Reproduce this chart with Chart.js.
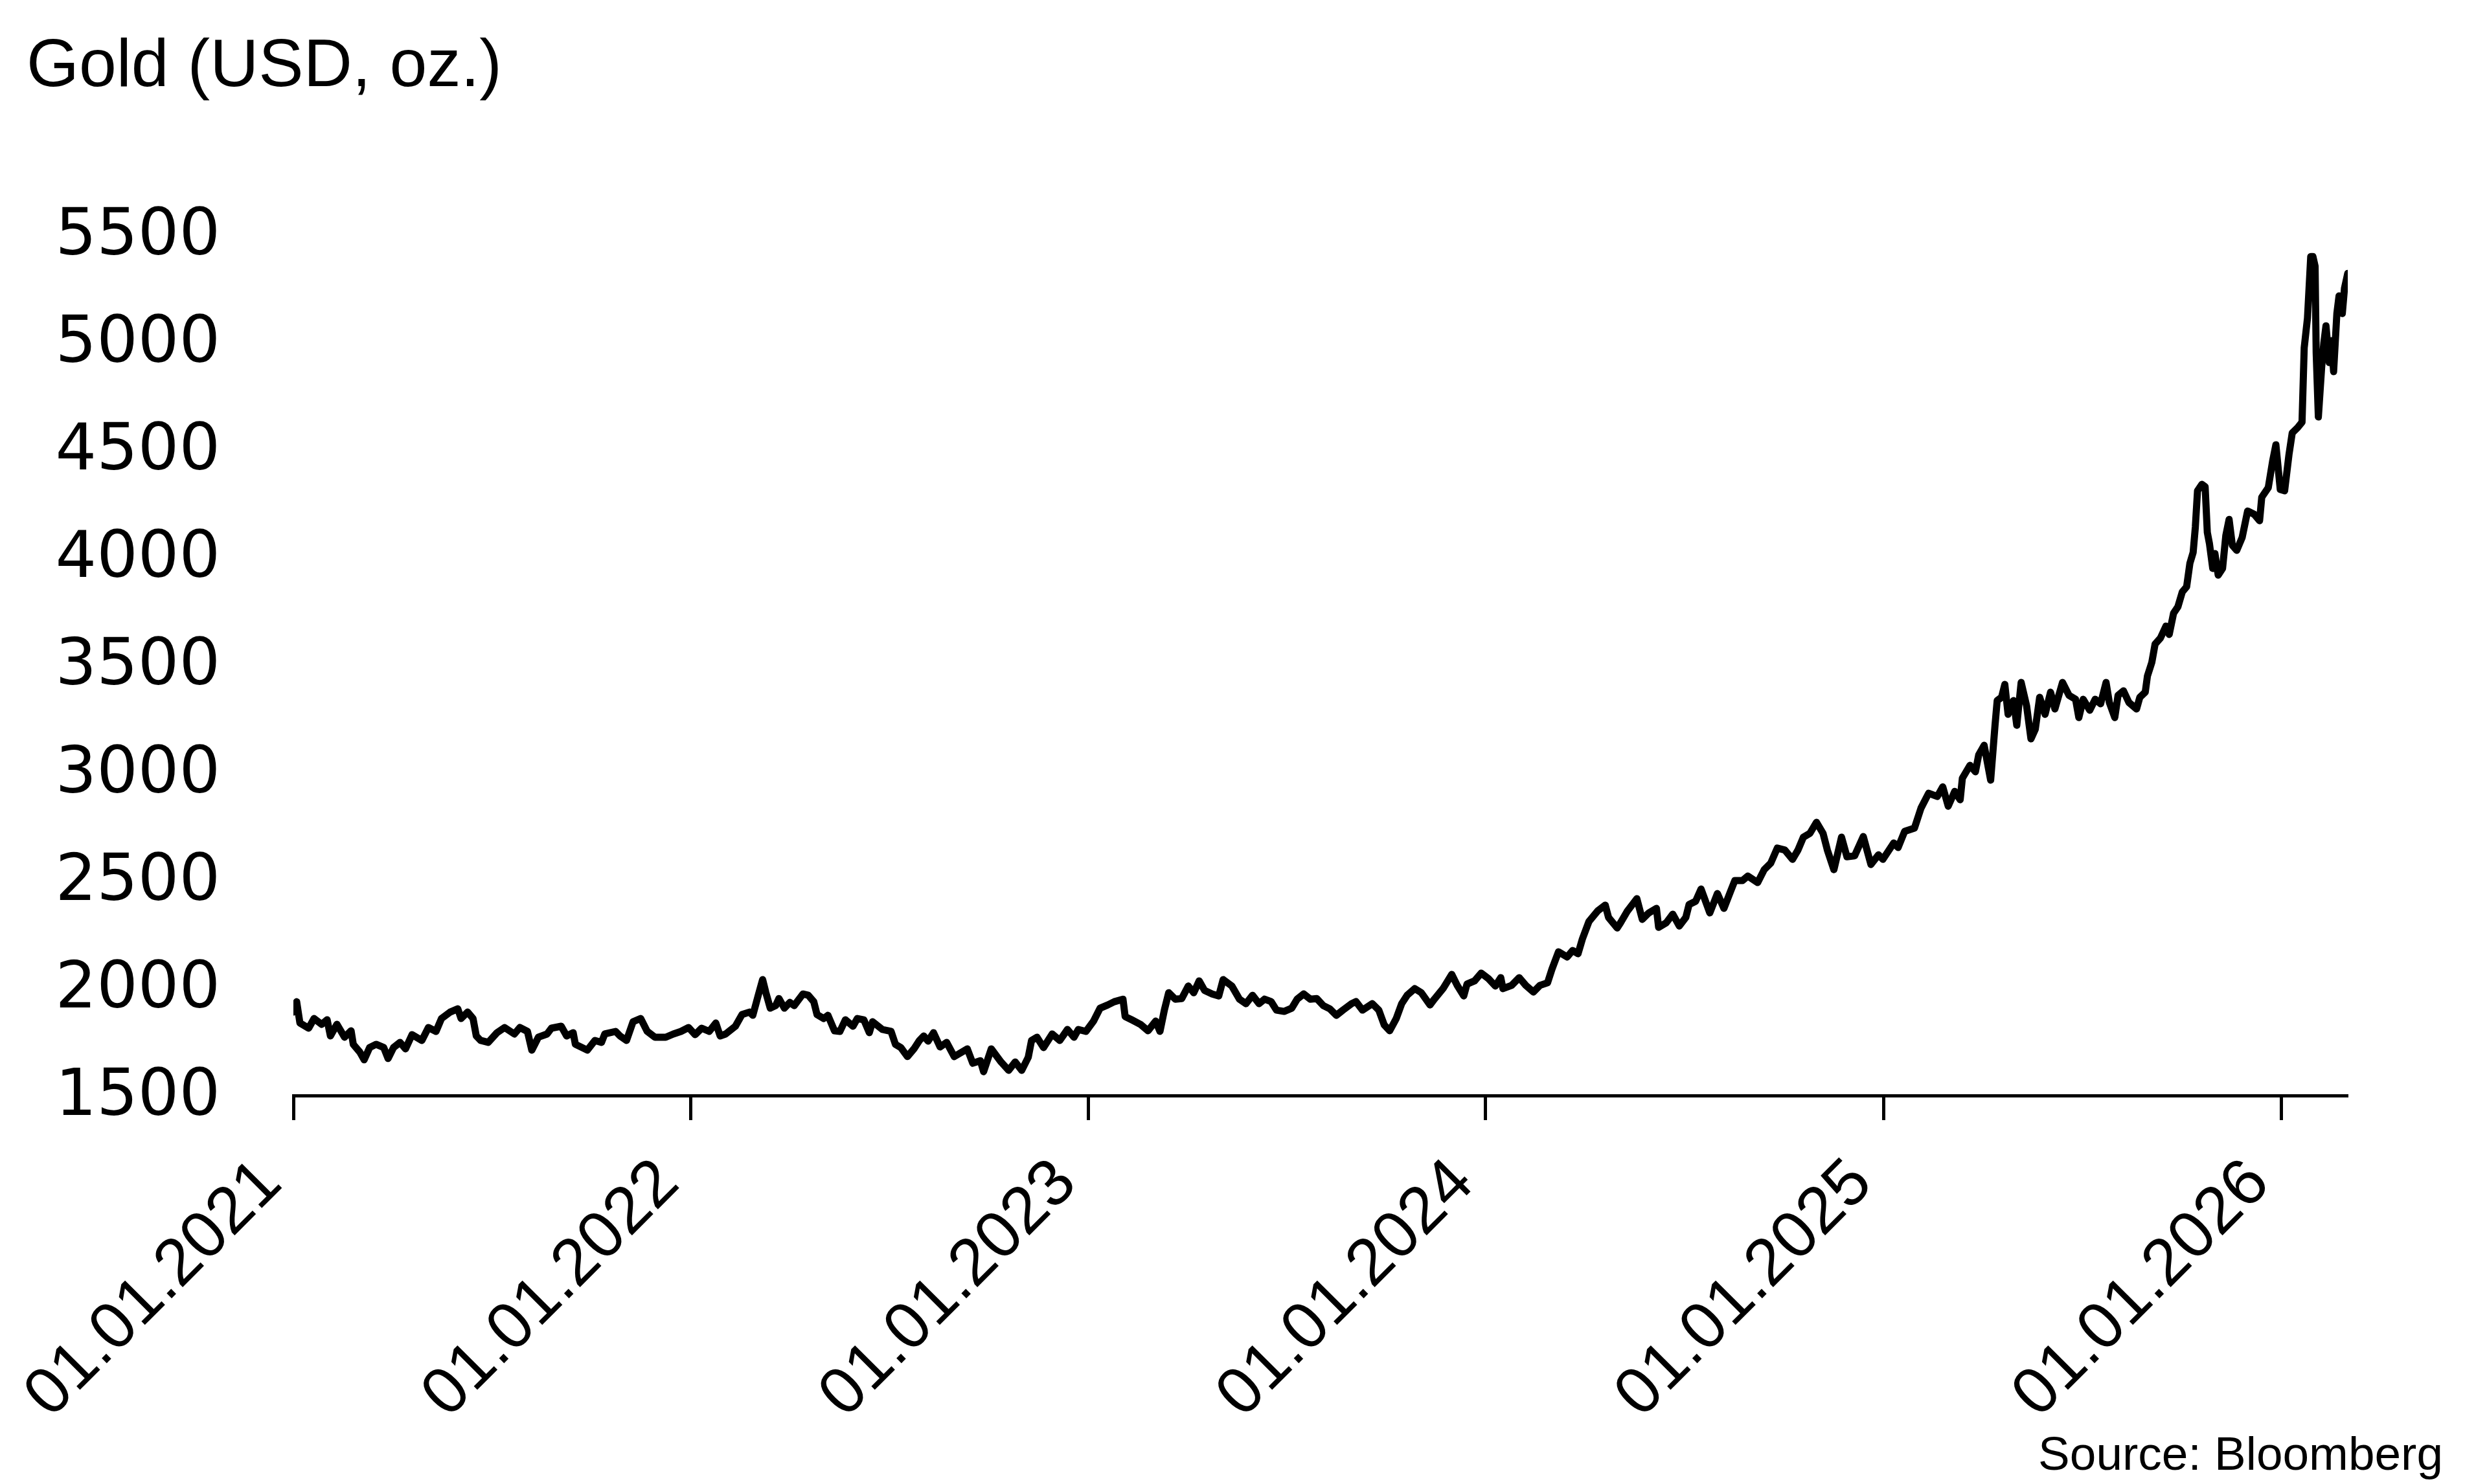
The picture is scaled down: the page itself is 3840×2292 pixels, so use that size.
<!DOCTYPE html>
<html>
<head>
<meta charset="utf-8">
<title>Gold (USD, oz.)</title>
<script src="https://cdn.jsdelivr.net/npm/chart.js@4.4.1/dist/chart.umd.min.js"></script>
<style>
  html, body { margin: 0; padding: 0; background: #fff; }
  #wrap { position: relative; width: 3840px; height: 2292px; }
</style>
</head>
<body>
<div id="wrap"><canvas id="goldChart"></canvas></div>
<script>
// Gold, USD per ounce (Bloomberg). x = days since 01.01.2021
const titleText = 'Gold (USD, oz.)';
const sourceText = 'Source: Bloomberg';

const tickDays = [0, 365, 730, 1095, 1461, 1826];
const tickLabels = ['01.01.2021', '01.01.2022', '01.01.2023', '01.01.2024', '01.01.2025', '01.01.2026'];

const days2021 = [0,3,6,14,19,26,31,34,40,47,53,55,61,65,70,76,83,87,92,98,103,109,118,124,131,136,144,151,154,160,
  165,168,172,179,187,194,203,208,215,219,225,233,237,246,251,257,259,270,277,283,286,296,300,306,312,319,325,332,342,349,356,363];
const gold2021 = [1888,1936,1837,1813,1858,1831,1852,1777,1831,1771,1801,1738,1702,1666,1723,1738,1723,1672,1723,1747,
  1717,1783,1756,1816,1798,1858,1888,1903,1858,1888,1858,1777,1756,1747,1792,1816,1786,1816,1798,1711,
  1771,1786,1813,1822,1777,1792,1738,1711,1756,1747,1786,1798,1777,1756,1843,1858,1798,1771,1771,1786,1798,1816];

const days2022 = [369,375,382,388,392,397,406,412,419,422,427,431,434,438,443,446,451,456,460,468,473,478,481,487,491,
  497,502,507,514,518,524,529,532,541,549,553,558,564,570,575,579,583,588,594,600,607,619,624,631,634,641,650,657,663,669,
  675,678,683,689,697,704,711,717,721,728];
const gold2022 = [1783,1813,1798,1837,1777,1786,1822,1876,1888,1873,1966,2039,1978,1906,1918,1951,1906,1933,1918,1972,
  1966,1936,1876,1858,1873,1801,1798,1852,1822,1858,1852,1792,1843,1807,1798,1738,1723,1681,1717,1756,
  1777,1753,1792,1726,1747,1681,1717,1650,1662,1611,1717,1656,1617,1656,1617,1678,1756,1771,1723,1786,
  1756,1807,1771,1807,1798];

const days2023 = [735,741,748,754,762,764,770,778,785,792,796,800,804,810,816,822,827,832,837,844,850,854,862,869,875,
  881,887,892,898,903,910,917,922,928,934,940,946,952,958,964,972,976,982,991,997,1002,1007,1013,1018,1023,
  1030,1036,1044,1048,1056,1064,1069,1075,1078,1085,1091];
const gold2023 = [1846,1906,1921,1936,1948,1867,1852,1831,1801,1846,1798,1897,1978,1948,1951,2009,1978,2033,1988,1972,
  1963,2039,2009,1948,1927,1966,1927,1948,1937,1897,1891,1906,1948,1972,1948,1951,1918,1903,1873,1897,
  1927,1937,1897,1927,1897,1828,1801,1858,1927,1966,1997,1978,1921,1948,1997,2063,2012,1963,2018,2033,2069];

const days2024 = [1098,1104,1109,1111,1119,1126,1132,1139,1145,1152,1156,1162,1170,1175,1180,1184,1190,1198,1205,1208,
  1216,1219,1225,1234,1239,1245,1252,1254,1261,1267,1273,1279,1282,1288,1293,1301,1308,1314,1320,1324,
  1331,1336,1345,1351,1357,1363,1370,1377,1382,1387,1393,1399,1405,1409,1415,1422,1427,1434,1442,1449,1456,1460];
const gold2024 = [2042,2009,2048,1997,2012,2048,2012,1981,2012,2024,2087,2168,2144,2174,2159,2228,2309,2358,2385,2328,
  2279,2303,2355,2415,2319,2349,2370,2282,2303,2343,2288,2328,2388,2403,2460,2349,2439,2370,2448,2499,
  2499,2520,2490,2550,2580,2650,2641,2598,2641,2701,2719,2770,2719,2641,2550,2701,2610,2614,2704,2574,2619,2598];

const days2025 = [1466,1470,1474,1480,1489,1495,1502,1510,1515,1520,1526,1531,1533,1540,1545,1548,1553,1559,1563,1565,
  1569,1572,1575,1580,1583,1587,1592,1596,1600,1604,1609,1614,1618,1625,1631,1637,1640,1644,1650,1655,
  1660,1665,1668,1673,1676,1681,1686,1693,1696,1701,1703,1707,1710,1715,1720,1723,1727,1731,1735,1739,
  1742,1745,1747,1749,1753,1756,1758,1760,1763,1765,1768,1772,1775,1778,1781,1785,1790,1795,1801,1806,
  1808,1814,1818,1821,1825];
const gold2025 = [2644,2674,2653,2728,2743,2836,2905,2890,2935,2845,2914,2875,2975,3035,3005,3083,3128,2966,3221,3336,
  3351,3411,3272,3336,3221,3420,3312,3158,3203,3351,3272,3375,3297,3420,3360,3342,3257,3342,3291,3342,
  3321,3420,3327,3257,3360,3381,3327,3297,3351,3375,3450,3513,3598,3627,3682,3643,3742,3772,3841,3865,
  3974,4025,4142,4311,4341,4330,4118,4064,3950,4019,3919,3950,4103,4178,4058,4034,4094,4217,4202,4172,
  4281,4326,4449,4525,4317];

const days2026 = [1829,1833,1836,1841,1845,1847,1850,1853,1855,1857,1858,1860,1863,1865,1867,1870,1872,1874,1877,1879,1882,1884,1887];
const gold2026 = [4311,4479,4580,4605,4630,4976,5114,5400,5400,5355,4952,4654,4883,4997,5078,4907,5009,4865,5135,5217,5135,5253,5322];

const days = [].concat(days2021, days2022, days2023, days2024, days2025, days2026);
const gold = [].concat(gold2021, gold2022, gold2023, gold2024, gold2025, gold2026);

const FONT = '"Liberation Sans", Arial, Helvetica, sans-serif';
const NUM_FONT = '"DejaVu Sans", "Liberation Sans", sans-serif';

// title top-left, source bottom-right
const captions = {
  id: 'captions',
  afterDraw(chart) {
    const ctx = chart.ctx;
    ctx.save();
    ctx.fillStyle = '#000';
    ctx.textBaseline = 'alphabetic';
    ctx.font = '104px ' + FONT;
    ctx.textAlign = 'left';
    ctx.fillText(titleText, 41, 133);
    ctx.font = '73px ' + FONT;
    ctx.textAlign = 'right';
    ctx.fillText(sourceText, 3772, 2270);
    ctx.restore();
  }
};

new Chart(document.getElementById('goldChart'), {
  type: 'line',
  data: {
    datasets: [{
      label: 'Gold',
      data: days.map((d, i) => ({ x: d, y: gold[i] })),
      borderColor: '#000',
      borderWidth: 11,
      borderJoinStyle: 'round',
      borderCapStyle: 'round',
      pointRadius: 0,
      tension: 0,
      fill: false
    }]
  },
  options: {
    responsive: true,
    maintainAspectRatio: false,
    devicePixelRatio: 1,
    animation: false,
    layout: { padding: { top: 363, right: 215, bottom: 0, left: 0 } },
    plugins: { legend: { display: false }, tooltip: { enabled: false } },
    scales: {
      x: {
        type: 'linear',
        min: 0,
        max: 1887,
        afterBuildTicks: s => { s.ticks = tickDays.map(v => ({ value: v })); },
        afterFit: s => { s.height = 600; },
        ticks: {
          autoSkip: false,
          minRotation: 45,
          maxRotation: 45,
          labelOffset: -34,
          padding: 38,
          color: '#000',
          font: { family: FONT, size: 102 },
          callback: (v, i) => tickLabels[i]
        },
        grid: { drawOnChartArea: false, drawTicks: true, tickLength: 38, tickWidth: 5, tickColor: '#000' },
        border: { display: true, color: '#000', width: 5 }
      },
      y: {
        min: 1500,
        max: 5500,
        afterFit: s => { s.width = 453; },
        ticks: {
          stepSize: 500,
          padding: 113,
          labelOffset: 4,
          color: '#000',
          font: { family: NUM_FONT, size: 100 },
          callback: v => String(v)
        },
        grid: { display: false, drawTicks: false },
        border: { display: false }
      }
    }
  },
  plugins: [captions]
});
</script>
</body>
</html>
